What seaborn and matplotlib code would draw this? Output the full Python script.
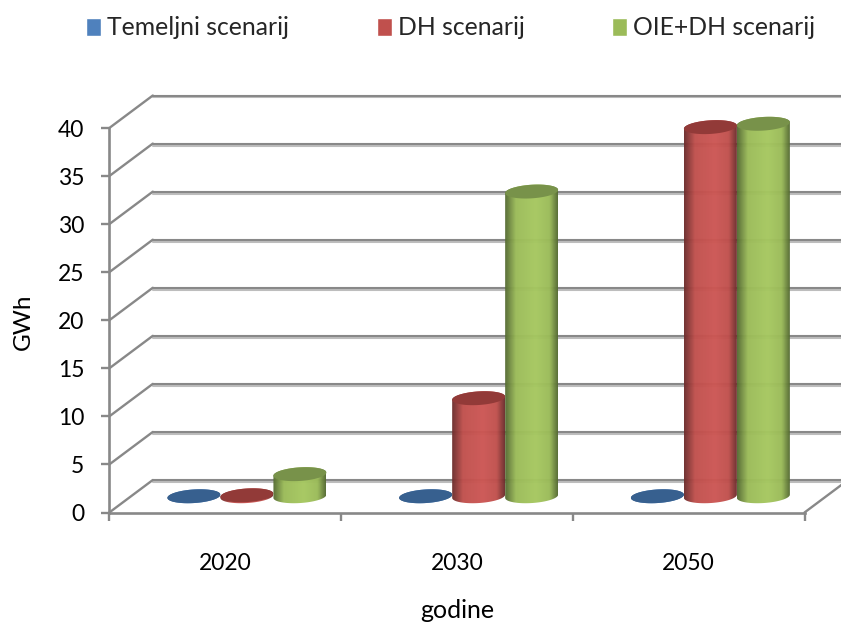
import numpy as np
import pandas as pd
import seaborn as sns
import matplotlib.pyplot as plt
import matplotlib.patheffects as pe
from matplotlib.colors import LinearSegmentedColormap
from matplotlib.patches import ConnectionPatch, Polygon

godine = ["2020", "2030", "2050"]
scenariji = ["Temeljni scenarij", "DH scenarij", "OIE+DH scenarij"]
temeljni = [0.0, 0.0, 0.0]
dh = [0.1, 10.2, 38.4]
oie_dh = [2.3, 31.7, 38.75]
y_ticks = [0, 5, 10, 15, 20, 25, 30, 35, 40]

boje = ["#4F81BD", "#C0504D", "#9BBB59"]
boje_vrh = ["#37608F", "#923A38", "#78924A"]
boje_rub = ["#2F5078", "#6E2E2D", "#566C33"]
boje_sredina = ["#5A8CC8", "#CD5754", "#A6C860"]

W, H = 841, 622
L, R, T, B = 109.3, 804.5, 128, 512.5
DX, DY = 43.5, 32.5
GRAY = "#888888"

sns.set_theme(style="white")
plt.rcParams["font.family"] = ["Lato", "DejaVu Sans"]
plt.rcParams["axes.unicode_minus"] = False

df = pd.DataFrame({
    "godina": godine * 3,
    "scenarij": np.repeat(scenariji, 3),
    "GWh": temeljni + dh + oie_dh,
})

fig = plt.figure(figsize=(W / 100, H / 100), dpi=100)


def plane(f):
    # f = 0 front of the floor, 1 back wall
    a = fig.add_axes([(L + f * DX) / W, (H - B + f * DY) / H, (R - L) / W, (B - T) / H])
    a.set_facecolor("none")
    a.set_xlim(-0.5, 2.5)
    a.set_ylim(0, 40)
    return a


back = plane(1)
front = plane(0)
mid = plane(0.5)
back.set_zorder(0)
front.set_zorder(1)
mid.set_zorder(2)

# back wall gridlines
back.set_yticks(y_ticks)
back.set_xticks([])
back.tick_params(left=False, labelleft=False)
back.grid(axis="y", color=GRAY, lw=1.5)
for g in back.get_ygridlines():
    g.set_clip_on(False)
    g.set_path_effects([pe.SimpleLineShadow(offset=(0, -1.4), shadow_color="#bdbdbd", alpha=1), pe.Normal()])
sns.despine(ax=back, left=True, bottom=True)

# front axes
front.set_yticks(y_ticks)
front.set_xticks([0, 1, 2], godine)
front.set_xticks([-0.5, 0.5, 1.5, 2.5], minor=True)
front.tick_params(axis="y", length=6, width=1.7, color=GRAY, labelsize=16.5, pad=12, labelcolor="black", left=True)
front.tick_params(axis="x", which="major", length=0, labelsize=16.5, pad=29, labelcolor="black")
front.tick_params(axis="x", which="minor", length=6, width=1.7, color=GRAY, bottom=True)
sns.despine(ax=front)
for s in ["left", "bottom"]:
    front.spines[s].set_color(GRAY)
    front.spines[s].set_linewidth(1.9)
front.set_xlabel("godine", fontsize=18, color="black", labelpad=18)
front.set_ylabel("GWh", fontsize=17.5, color="black")
front.yaxis.set_label_coords(-0.109, 0.495)

# side wall and floor edge
for v in y_ticks:
    fig.add_artist(ConnectionPatch((-0.5, v), (-0.5, v), coordsA=front.transData, coordsB=back.transData,
                                   color=GRAY, lw=1.7, zorder=0.5))
fig.add_artist(ConnectionPatch((2.5, 0), (2.5, 0), coordsA=front.transData, coordsB=back.transData,
                               color=GRAY, lw=1.7, zorder=0.5))

# cylinders
sns.barplot(data=df, x="godina", y="GWh", hue="scenarij", hue_order=scenariji, order=godine,
            palette=boje, width=0.686, gap=0, saturation=1, ax=mid, legend=True)
handles, labels = mid.get_legend_handles_labels()
mid.get_legend().remove()
leg = fig.legend(handles, labels, loc="upper left", bbox_to_anchor=(64 / W, 1 + 6 / H), ncol=3,
                 frameon=False, fontsize=17.8, handlelength=0.6, handleheight=0.75,
                 handletextpad=0.25, columnspacing=3.55, borderpad=0.4)

visina = 6.8 / ((B - T) / 40)
nagib = 1.6 / ((B - T) / 40)
t = np.linspace(0, 2 * np.pi, 90)

for i, cont in enumerate(mid.containers):
    cmap = LinearSegmentedColormap.from_list(
        "cyl", [(0, boje_rub[i]), (0.2, boje[i]), (0.58, boje_sredina[i]), (0.85, boje[i]), (1, boje_rub[i])])
    for bar in cont:
        x0, w, h = bar.get_x(), bar.get_width(), bar.get_height()
        bar.set_facecolor("none")
        bar.set_edgecolor("none")
        cx = x0 + w / 2
        ex = cx + w / 2 * np.cos(t)
        ey = visina * np.sin(t) + nagib * np.cos(t)
        low = t > np.pi
        up = t <= np.pi
        pts = np.r_[np.c_[ex[low], ey[low]], np.c_[ex[up], h + ey[up]]]
        im = mid.imshow(np.linspace(0, 1, 64)[None, :], cmap=cmap, aspect="auto", interpolation="bilinear",
                        extent=(x0, x0 + w, -2, h + 2), zorder=3 + i, alpha=0.97)
        im.set_clip_path(Polygon(pts, transform=mid.transData))
        im.set_clip_box(fig.bbox)
        mid.fill(ex, h + ey, color=boje_vrh[i], lw=0, zorder=3 + i + 0.1, clip_on=False)

mid.set_xlim(-0.5, 2.5)
mid.set_ylim(0, 40)
mid.set_xlabel("")
mid.set_ylabel("")
mid.set_xticks([])
mid.set_yticks([])
sns.despine(ax=mid, left=True, bottom=True)

fig.savefig("out.png", dpi=100)
